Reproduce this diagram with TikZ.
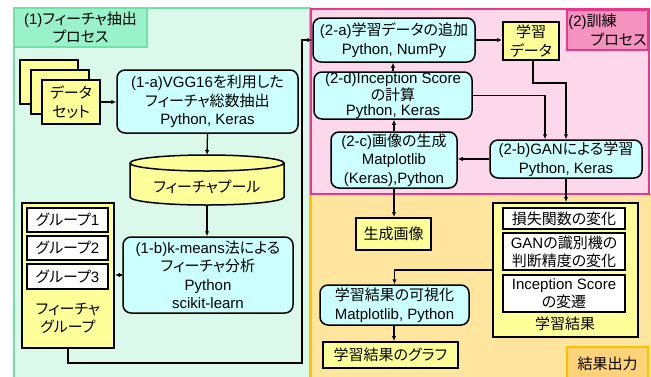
\documentclass[tikz,border=0pt]{standalone}
\usepackage{fontspec}
\setmainfont[RawFeature=+palt]{Noto Sans CJK JP}
\newfontfamily\latf{Liberation Sans}
\newcommand\lx[1]{{\latf #1}}
\usetikzlibrary{arrows.meta}
\definecolor{grnfill}{HTML}{DBF9EA}
\definecolor{grnline}{HTML}{6FE3A6}
\definecolor{grntitle}{HTML}{99F2CC}
\definecolor{pnkfill}{HTML}{FCD8EA}
\definecolor{pnkline}{HTML}{E8378C}
\definecolor{pnktitle}{HTML}{F593C0}
\definecolor{orgfill}{HTML}{FFE59E}
\definecolor{orgline}{HTML}{FFC000}
\definecolor{orgtitle}{HTML}{FFD37A}
\definecolor{cyanc}{HTML}{CCFFFF}
\definecolor{yelc}{HTML}{FFFF99}
\tikzset{
  txt/.style={font=\fontsize{15pt}{18.5pt}\selectfont, align=center, inner sep=0pt},
  cyanbox/.style={txt, draw, line width=1.5pt, rounded corners=8pt, fill=cyanc},
  yelbox/.style={txt, draw, line width=2pt, fill=yelc},
  whitebox/.style={txt, draw, line width=2pt, fill=white},
  conn/.style={line width=1.3pt, -{Latex[length=5pt,width=4.5pt]}},
}
\begin{document}
\begin{tikzpicture}[x=1pt,y=-1pt]
\useasboundingbox (0,0) rectangle (651,376);
% regions
\draw[grnline, line width=2pt, fill=grnfill] (14,8) rectangle (310,385);
\draw[orgline, line width=2.5pt, fill=orgfill] (311,194) rectangle (652,385);
\draw[pnkline, line width=2.5pt, fill=pnkfill] (311,9) rectangle (649,194);
\node[txt, draw=grnline, line width=2pt, fill=grntitle, minimum width=133pt, minimum height=39pt] (t1) at (80.5,27.5) {\lx{(1)}フィーチャ抽出\\プロセス};
\node[txt, draw=pnkline, line width=2pt, fill=pnktitle, minimum width=81pt, minimum height=40pt, align=left] (t2) at (607.5,30) {\lx{(2)}訓練\\\hspace*{22pt}プロセス};
\node[txt, draw=orgline, line width=2pt, fill=orgtitle, minimum width=81pt, minimum height=34pt] (t3) at (607.5,364) {結果出力};
% data set stack
\node[yelbox, minimum width=58pt, minimum height=44pt] (dsb) at (49,82) {};
\node[yelbox, minimum width=58pt, minimum height=44pt] (dsm) at (60,92) {};
\node[yelbox, minimum width=58pt, minimum height=44pt] (ds) at (71,102) {データ\\セット};
% (1-a)
\node[cyanbox, minimum width=181pt, minimum height=63pt] (a1) at (207.5,101.5) {\lx{(1-a)VGG16}を利用した\\フィーチャ総数抽出\\\lx{Python, Keras}};
% cylinder
\draw[line width=1.5pt, fill=yelc] (130,163) -- (130,197) arc[start angle=180, end angle=360, x radius=77pt, y radius=8pt] -- (284,163) arc[start angle=0, end angle=180, x radius=77pt, y radius=8pt] -- cycle;
\draw[line width=1.5pt] (130,163) arc[start angle=180, end angle=360, x radius=77pt, y radius=8pt];
\node[txt] (pool) at (207,187) {フィーチャプール};
\coordinate (pooltop) at (207,155);
\coordinate (poolbot) at (207,205);
% (1-b)
\node[cyanbox, minimum width=170pt, minimum height=76pt] (b1) at (208,275) {\lx{(1-b)k-means}法による\\フィーチャ分析\\\lx{Python}\\\lx{scikit-learn}};
% feature group
\node[yelbox, minimum width=92pt, minimum height=145pt] (grp) at (68,275.5) {};
\node[whitebox, minimum width=81pt, minimum height=24pt] (g1) at (67.5,220) {グループ\lx{1}};
\node[whitebox, minimum width=81pt, minimum height=24pt] (g2) at (67.5,248) {グループ\lx{2}};
\node[whitebox, minimum width=81pt, minimum height=25pt] (g3) at (67.5,276.5) {グループ\lx{3}};
\node[txt] (glab) at (68,318) {フィーチャ\\グループ};
% pink region nodes
\node[cyanbox, minimum width=162pt, minimum height=44pt] (a2) at (394,40) {\lx{(2-a)}学習データの追加\\\lx{Python, NumPy}};
\node[yelbox, minimum width=56pt, minimum height=38pt] (td) at (531,41) {学習\\データ};
\node[cyanbox, minimum width=158pt, minimum height=47pt, font=\fontsize{15pt}{14.5pt}\selectfont] (d2) at (393,95.5) {\lx{(2-d)Inception Score}\\の計算\\\lx{Python, Keras}};
\node[cyanbox, minimum width=126pt, minimum height=56pt] (c2) at (394,160) {\lx{(2-c)}画像の生成\\\lx{Matplotlib}\\\lx{(Keras),Python}};
\node[cyanbox, minimum width=152pt, minimum height=38pt] (b2) at (566,159) {\lx{(2-b)GAN}による学習\\\lx{Python, Keras}};
% orange region nodes
\node[yelbox, minimum width=75pt, minimum height=32pt] (gen) at (393.5,234) {生成画像};
\node[yelbox, minimum width=145pt, minimum height=134pt] (res) at (565.5,270) {};
\node[whitebox, minimum width=122pt, minimum height=21pt] (r1) at (564,218.5) {損失関数の変化};
\node[whitebox, minimum width=122pt, minimum height=37pt, font=\fontsize{15pt}{18pt}\selectfont] (r2) at (564,251.5) {\lx{GAN}の識別機の\\判断精度の変化};
\node[whitebox, minimum width=122pt, minimum height=37pt, font=\fontsize{15pt}{18pt}\selectfont] (r3) at (564,293.5) {\lx{Inception Score}\\の変遷};
\node[txt] (rlab) at (565,324) {学習結果};
\node[cyanbox, minimum width=149pt, minimum height=40pt] (vis) at (394.5,305) {学習結果の可視化\\\lx{Matplotlib, Python}};
\node[yelbox, minimum width=135pt, minimum height=26pt] (gr) at (390.5,355) {学習結果のグラフ};
% connectors
\draw[conn] (ds.east) -- (ds.east -| a1.west);
\draw[conn] (a1.south) -- (pooltop);
\draw[conn] (poolbot) -- (poolbot |- b1.north);
\draw[conn] (b1.west) -- (b1.west -| grp.east);
\coordinate (c1) at (302,363);
\draw[conn] (grp.south) |- (c1) |- (a2.west);
\draw[conn] (a2.east) -- (a2.east -| td.west);
\coordinate (cA) at (533,83);
\draw[conn] ([xshift=2pt]td.south) -- (cA) -| (b2.north);
\draw[conn] (d2.east) -| ([xshift=-21pt]b2.north);
\draw[conn] (d2.north) -- (d2.north |- a2.south);
\draw[conn] (c2.north) -- (c2.north |- d2.south);
\draw[conn] (b2.west) -- (b2.west -| c2.east);
\draw[conn] (b2.south) -- (b2.south |- res.north);
\draw[conn] (c2.south) -- (c2.south |- gen.north);
\draw[conn] (res.west) -| (vis.north);
\draw[conn] ([xshift=-0.5pt]vis.south) -- ([xshift=-0.5pt]vis.south |- gr.north);
\end{tikzpicture}
\end{document}
